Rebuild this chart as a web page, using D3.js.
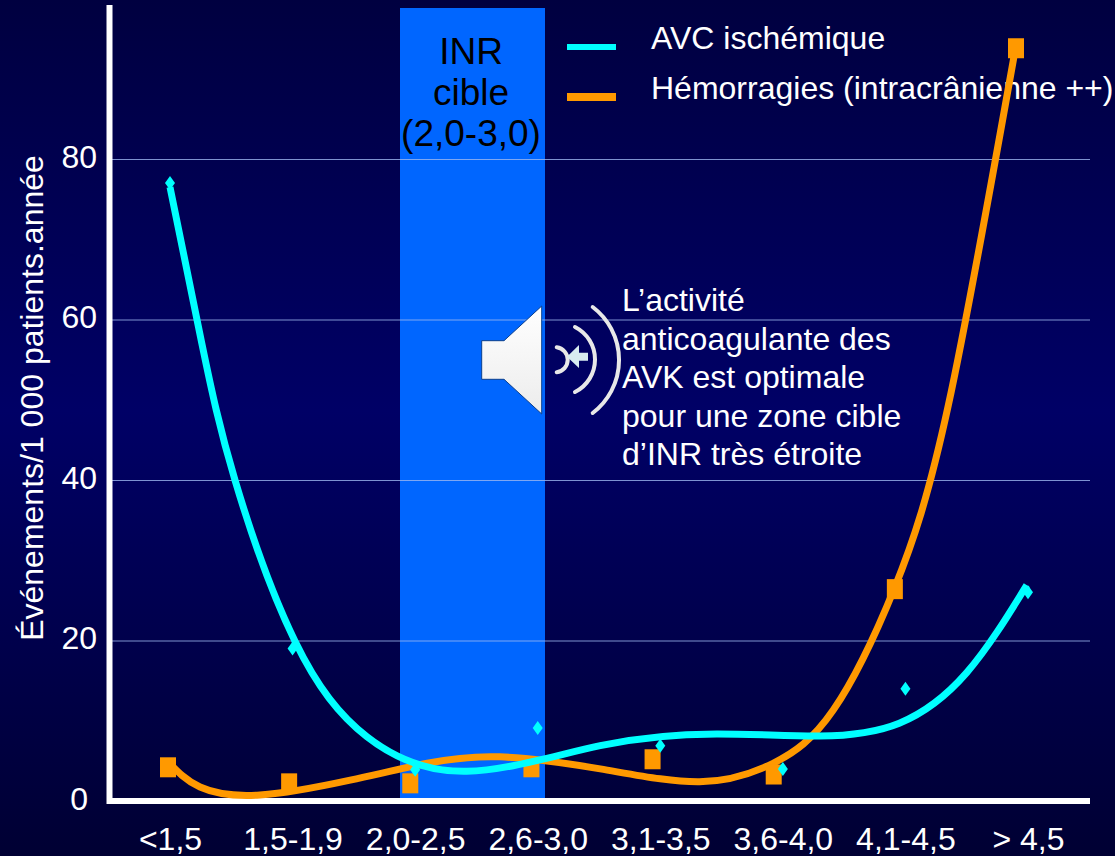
<!DOCTYPE html>
<html lang="fr">
<head>
<meta charset="utf-8">
<script src="https://cdn.jsdelivr.net/npm/d3@7"></script>
<style>
  html, body { margin: 0; padding: 0; background: #000040; }
  svg { display: block; }
  text { font-family: "Liberation Sans", Arial, sans-serif; }
</style>
</head>
<body>
<svg id="chart" width="1115" height="856"></svg>
<script>
const categories = ['<1,5', '1,5-1,9', '2,0-2,5', '2,6-3,0', '3,1-3,5', '3,6-4,0', '4,1-4,5', '> 4,5'];
const yTicks = [0, 20, 40, 60, 80];
const avcValues = [77, 19, 3.9, 9.1, 6.9, 4, 14, 26];
const hemoValues = [4.2, 2.2, 2.2, 4.2, 5.2, 3.3, 26.4, 93.8];

// trend curves: [category position, events]
const avcTrend = [[0, 76.5], [0.26, 57], [0.53, 40], [1.02, 19.9], [1.607, 8], [2.42, 3.7], [3.51, 6.9],
  [4.46, 8.35], [5.3, 8.1], [5.95, 9.7], [6.5, 16], [6.99, 26.9]];
const hemoTrend = [[-0.016, 4.9], [0.245, 1.74], [0.734, 0.75], [1.47, 2.6], [2.1, 4.7], [2.69, 5.5], [3.51, 4],
  [4.32, 2.4], [4.92, 4.7], [5.41, 11.3], [5.91, 26.5], [6.35, 49.3], [6.9, 94]];

const noteLines = ['L’activité', 'anticoagulante des', 'AVK est optimale', 'pour une zone cible', 'd’INR très étroite'];
const targetLines = ['INR', 'cible', '(2,0-3,0)'];
const legendLabels = ['AVC ischémique', 'Hémorragies (intracrânienne ++)'];

const CYAN = '#00ffff';
const ORANGE = '#ff9900';

const svg = d3.select('#chart');

const grad = svg.append('defs').append('linearGradient')
  .attr('id', 'bg').attr('x1', 0).attr('y1', 0).attr('x2', 0).attr('y2', 1);
grad.append('stop').attr('offset', '0%').attr('stop-color', '#000040');
grad.append('stop').attr('offset', '48%').attr('stop-color', '#000066');
grad.append('stop').attr('offset', '100%').attr('stop-color', '#000033');

svg.append('rect').attr('width', 1115).attr('height', 856).attr('fill', 'url(#bg)');

const x = d3.scalePoint().domain(categories).range([170, 1028]);
const xSquares = d3.scalePoint().domain(categories).range([168, 1016]);
const xTrend = d3.scaleLinear().domain([0, 7]).range([170, 1028]);
const y = d3.scaleLinear().domain([0, 80]).range([801, 159]);

// target zone
svg.append('rect')
  .attr('x', 400).attr('y', 8).attr('width', 145).attr('height', 790)
  .attr('fill', '#0066ff');

// gridlines
svg.append('g')
  .attr('transform', 'translate(110,0)')
  .call(d3.axisLeft(y).tickValues(yTicks.slice(1)).tickSize(-980).tickFormat(''))
  .call(g => g.select('.domain').remove())
  .call(g => g.selectAll('line').attr('stroke', '#9db8f0').attr('stroke-opacity', 0.8).attr('stroke-width', 1));

// tick labels
svg.append('g')
  .attr('transform', 'translate(97,-2)')
  .call(d3.axisLeft(y).tickValues(yTicks).tickSize(0).tickPadding(0))
  .call(g => g.select('.domain').remove())
  .call(g => g.selectAll('text').attr('fill', '#fff').attr('font-size', 32).attr('font-family', null)
    .attr('dx', d => d === 0 ? -9 : 0));

svg.append('g')
  .attr('transform', 'translate(0,827)')
  .call(d3.axisBottom(x).tickSize(0).tickPadding(0))
  .call(g => g.select('.domain').remove())
  .call(g => g.selectAll('text').attr('fill', '#fff').attr('font-size', 32).attr('font-family', null));

// axis lines
svg.append('path')
  .attr('d', 'M109.5,5V801H1090')
  .attr('fill', 'none').attr('stroke', '#fff').attr('stroke-width', 6);

svg.append('text')
  .attr('transform', 'translate(43,398) rotate(-90)')
  .attr('text-anchor', 'middle')
  .attr('fill', '#fff').attr('font-size', 32)
  .text('Événements/1 000 patients.année');

svg.append('g').selectAll('text').data(targetLines).join('text')
  .attr('x', 471).attr('y', (d, i) => 64 + i * 41)
  .attr('text-anchor', 'middle').attr('fill', '#000').attr('font-size', 37)
  .text(d => d);

// legend
svg.append('g').selectAll('text').data(legendLabels).join('text')
  .attr('x', 651).attr('y', (d, i) => 49 + i * 50)
  .attr('fill', '#fff').attr('font-size', 32)
  .text(d => d);
svg.append('rect').attr('x', 567).attr('y', 44).attr('width', 49).attr('height', 6).attr('fill', CYAN);
svg.append('rect').attr('x', 567).attr('y', 93).attr('width', 49).attr('height', 8).attr('fill', ORANGE);

svg.append('g').selectAll('text').data(noteLines).join('text')
  .attr('x', 622).attr('y', (d, i) => 311 + i * 38.6)
  .attr('fill', '#fff').attr('font-size', 32)
  .text(d => d);

// speaker icon
const icon = svg.append('g');
const iconGrad = svg.select('defs').append('linearGradient')
  .attr('id', 'spk').attr('x1', 0).attr('y1', 0).attr('x2', 0).attr('y2', 1);
iconGrad.append('stop').attr('offset', '0%').attr('stop-color', '#ffffff');
iconGrad.append('stop').attr('offset', '100%').attr('stop-color', '#ececec');
icon.append('path')
  .attr('d', 'M481.7,340.7H504L541.7,306V414L504,379.3H481.7Z')
  .attr('fill', 'url(#spk)').attr('stroke', '#0b3f8c').attr('stroke-width', 1);
icon.selectAll('path.arc')
  .data(['M556.7,347.3A12.6,12.6 0 0 1 556.7,372.3', 'M575,327A36.4,36.4 0 0 1 575,392', 'M592.7,307A66.5,66.5 0 0 1 592.7,413'])
  .join('path')
  .attr('class', 'arc')
  .attr('d', d => d)
  .attr('fill', 'none').attr('stroke', '#e8e8e8').attr('stroke-width', 4).attr('stroke-linecap', 'round');
icon.append('path')
  .attr('d', 'M588,352.7H579V345L567,356.7L579,368V360.7H588Z')
  .attr('fill', '#d8ecf0');

// trend curves
const line = d3.line()
  .x(d => xTrend(d[0]))
  .y(d => y(d[1]))
  .curve(d3.curveNatural);

svg.append('path').datum(hemoTrend)
  .attr('d', line).attr('fill', 'none').attr('stroke', ORANGE).attr('stroke-width', 7);

svg.append('g').selectAll('rect').data(hemoValues).join('rect')
  .attr('x', (d, i) => xSquares(categories[i]) - 8)
  .attr('y', d => y(d) - 10)
  .attr('width', 16).attr('height', 20)
  .attr('fill', ORANGE);

svg.append('path').datum(avcTrend)
  .attr('d', line).attr('fill', 'none').attr('stroke', CYAN).attr('stroke-width', 7);

svg.append('g').selectAll('path').data(avcValues).join('path')
  .attr('transform', (d, i) => `translate(${x(categories[i])},${y(d)})`)
  .attr('d', 'M0,-7L5,0L0,7L-5,0Z')
  .attr('fill', CYAN);
</script>
</body>
</html>
